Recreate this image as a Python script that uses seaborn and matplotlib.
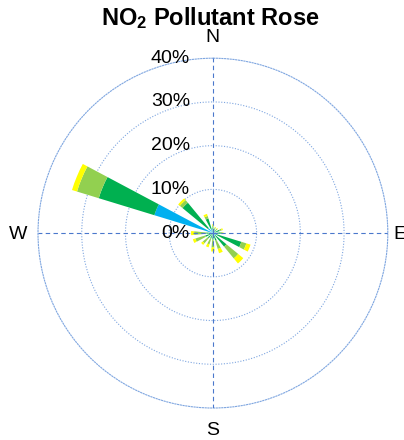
import numpy as np
import matplotlib
matplotlib.use('Agg')
import matplotlib.pyplot as plt
from matplotlib.transforms import offset_copy
import seaborn as sns

sns.set_style('white')
plt.rcParams['font.family'] = ['Liberation Sans', 'DejaVu Sans']
plt.rcParams['text.color'] = 'black'
plt.rcParams['mathtext.fontset'] = 'custom'
plt.rcParams['mathtext.rm'] = 'Liberation Sans:bold'
plt.rcParams['mathtext.default'] = 'rm'

# 16 wind directions, clockwise from north
directions = ['N', 'NNE', 'NE', 'ENE', 'E', 'ESE', 'SE', 'SSE',
              'S', 'SSW', 'SW', 'WSW', 'W', 'WNW', 'NW', 'NNW']
angles_deg = [0, 22.5, 45, 67.5, 90, 112.5, 135, 157.5,
              180, 202.5, 225, 247.5, 270, 292.5, 315, 337.5]

# percentage of time per concentration bin (lowest bin first)
bin_1 = [0.3, 0.3, 0.3, 0.4, 0.4, 0.8, 0.5, 0.3, 0.3, 0.3, 0.3, 0.4, 0.5, 14.0, 1.5, 1.0]
bin_2 = [1.0, 0.6, 0.6, 1.2, 1.4, 6.0, 3.5, 1.5, 1.2, 1.0, 1.2, 1.4, 1.0, 13.3, 7.5, 2.5]
bin_3 = [0.4, 0.4, 0.4, 0.5, 0.4, 1.2, 3.5, 2.0, 1.8, 1.4, 1.5, 2.4, 2.8, 5.2, 0.8, 0.6]
bin_4 = [0.3, 0.2, 0.2, 0.3, 0.2, 1.0, 1.5, 1.0, 0.9, 0.7, 0.5, 0.6, 0.7, 1.2, 0.5, 0.5]
bin_colors = ['#00B0F0', '#00B050', '#92D050', '#FFFF00']

ring_values = [0, 10, 20, 30, 40]
ring_labels = ['0%', '10%', '20%', '30%', '40%']

fig = plt.figure(figsize=(4.04, 4.40), dpi=100)
ax = fig.add_axes([0.094, 0.0727, 0.866, 0.795], projection='polar')
ax.set_theta_zero_location('N')
ax.set_theta_direction(-1)

theta = np.deg2rad(angles_deg)
width = np.deg2rad(11)
bottom = np.zeros(len(theta))
for vals, col in zip([bin_1, bin_2, bin_3, bin_4], bin_colors):
    vals = np.array(vals)
    ax.bar(theta, vals, width=width, bottom=bottom, color=col,
           edgecolor='none', linewidth=0, zorder=2)
    bottom += vals

ax.set_ylim(0, 40)
ax.set_yticks([10, 20, 30])
ax.set_yticklabels([])
ax.set_xticks(np.deg2rad([0, 90, 180, 270]))
ax.set_xticklabels([])
ax.grid(False)
for r in [10, 20, 30]:
    ax.plot(np.linspace(0, 2 * np.pi, 300), np.full(300, r), color='#7fa6e0',
            linestyle=(0, (1, 1.5)), linewidth=0.8, zorder=1)
for a in [0, 90, 180, 270]:
    ax.plot([np.deg2rad(a), np.deg2rad(a)], [0, 40], color='#4a78cc',
            linestyle=(0, (4, 3)), linewidth=0.8, zorder=3)
ax.spines['polar'].set_color('#7fa6e0')
ax.spines['polar'].set_linestyle((0, (1, 1.5)))
ax.spines['polar'].set_linewidth(0.8)
ax.set_facecolor('white')

# radial labels, right aligned left of the north axis
trans = offset_copy(ax.transData, fig=fig, x=-23, y=0, units='dots')
for r, lab in zip(ring_values, ring_labels):
    ax.text(0, r, lab, transform=trans, ha='right', va='center',
            fontsize=14, color='black', zorder=4)

fig.text(0.527, 0.914, 'N', ha='center', va='center', fontsize=14)
fig.text(0.527, 0.022, 'S', ha='center', va='center', fontsize=14)
fig.text(0.045, 0.466, 'W', ha='center', va='center', fontsize=14)
fig.text(0.99, 0.466, 'E', ha='center', va='center', fontsize=14)
fig.text(0.52, 0.958, r'NO$_2$ Pollutant Rose', ha='center', va='center',
         fontsize=17, fontweight='bold')

fig.savefig('out.png', dpi=100)
